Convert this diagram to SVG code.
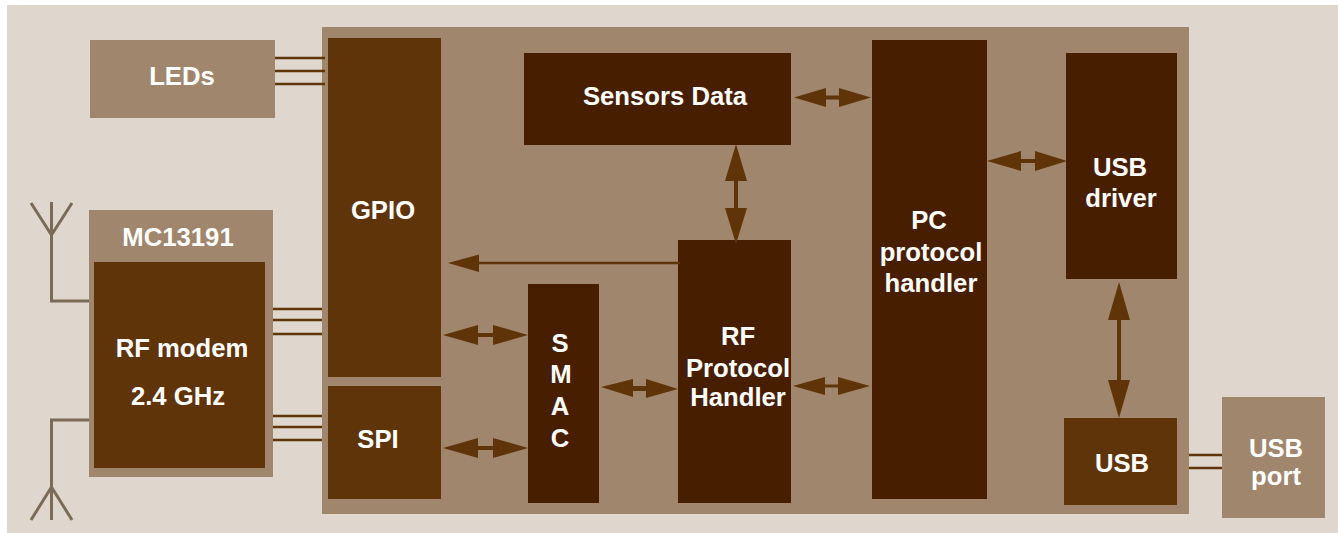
<svg xmlns="http://www.w3.org/2000/svg" width="1338" height="533" viewBox="0 0 1338 533">
<style>
.mid{fill:#a0866d}
.br{fill:#5f3409}
.dk{fill:#481e00}
text{font-family:"Liberation Sans",Arial,sans-serif;font-weight:700;font-size:25.700px;fill:#fff;text-anchor:middle}
.w{stroke:#5f3409;stroke-width:2.500;fill:none}
.a{stroke:#7b6a55;stroke-width:3;fill:none}
.s{fill:#5f3409}
</style>
<rect x="7" y="5" width="1331" height="528" fill="#dfd6cd"/>
<rect id="board" class="mid" x="322" y="27" width="867" height="487"/>
<g id="connectors">
<path class="w" d="M275 58H325M275 71H325M275 84H325M273 309H322M273 320H322M273 334H322M273 416H322M273 427H322M273 440H322M1189 455H1222M1189 468H1222"/>
<path class="a" d="M89 301H51.500V202M31 203L51.500 235L72 203M89 420H51.500V520M31 520L51.500 487L72 520"/>
</g>
<g id="leds"><rect class="mid" x="90" y="40" width="185" height="78"/><text x="182" y="85">LEDs</text></g>
<g id="mc13191"><rect class="mid" x="89" y="210" width="184" height="267"/><text x="178" y="246">MC13191</text></g>
<g id="rf-modem"><rect class="br" x="94" y="262" width="171" height="206"/><text x="182" y="357">RF modem</text><text x="178" y="405">2.4 GHz</text></g>
<g id="gpio"><rect class="br" x="328" y="38" width="113" height="339"/><text x="383" y="219">GPIO</text></g>
<g id="spi"><rect class="br" x="328" y="386" width="113" height="113"/><text x="378" y="448">SPI</text></g>
<g id="sensors"><rect class="dk" x="524" y="53" width="267" height="92"/><text x="665" y="105">Sensors Data</text></g>
<g id="rf-protocol"><rect class="dk" x="678" y="240" width="113" height="263"/><text x="738" y="345">RF</text><text x="738" y="377">Protocol</text><text x="738" y="406">Handler</text></g>
<g id="smac"><rect class="dk" x="528" y="284" width="71" height="219"/><text x="560" y="352">S</text><text x="561" y="383">M</text><text x="560" y="415">A</text><text x="560" y="447">C</text></g>
<g id="pc"><rect class="dk" x="872" y="40" width="115" height="459"/><text x="929" y="229">PC</text><text x="931" y="261">protocol</text><text x="931" y="292">handler</text></g>
<g id="usb-driver"><rect class="dk" x="1066" y="53" width="111" height="226"/><text x="1120" y="176">USB</text><text x="1121" y="207">driver</text></g>
<g id="usb"><rect class="br" x="1064" y="418" width="113" height="87"/><text x="1122" y="472">USB</text></g>
<g id="usb-port"><rect class="mid" x="1222" y="397" width="103" height="121"/><text x="1276" y="457">USB</text><text x="1276" y="485">port</text></g>
<g id="arrows">
<path class="w" d="M478 263H680"/>
<polygon class="s" points="448,263 479,254.500 479,272"/>
<path class="s" d="M794 97.500L826 88V95.500H839V88L871 97.500L839 107V99.500H826V107Z"/>
<path class="s" d="M987 161L1021 151V159H1035V151L1067 161L1035 171V163H1021V171Z"/>
<path class="s" d="M443 335L478 325V333H493V325L528 335L493 345V337H478V345Z"/>
<path class="s" d="M443 448L478 438V446H493V438L528 448L493 458V450H478V458Z"/>
<path class="s" d="M601 387L633 379V386H646V379L678 389L646 398V391H633V397Z"/>
<path class="s" d="M793 386L825 377V384.500H838V377L870 386L838 395V387.500H825V395Z"/>
<path class="s" d="M736 144L747 181H738V208H747L736 244L725 208H734V181H725Z"/>
<path class="s" d="M1119 282L1130 320H1121V380H1130L1119 418L1108 380H1117V320H1108Z"/>
</g>
</svg>
